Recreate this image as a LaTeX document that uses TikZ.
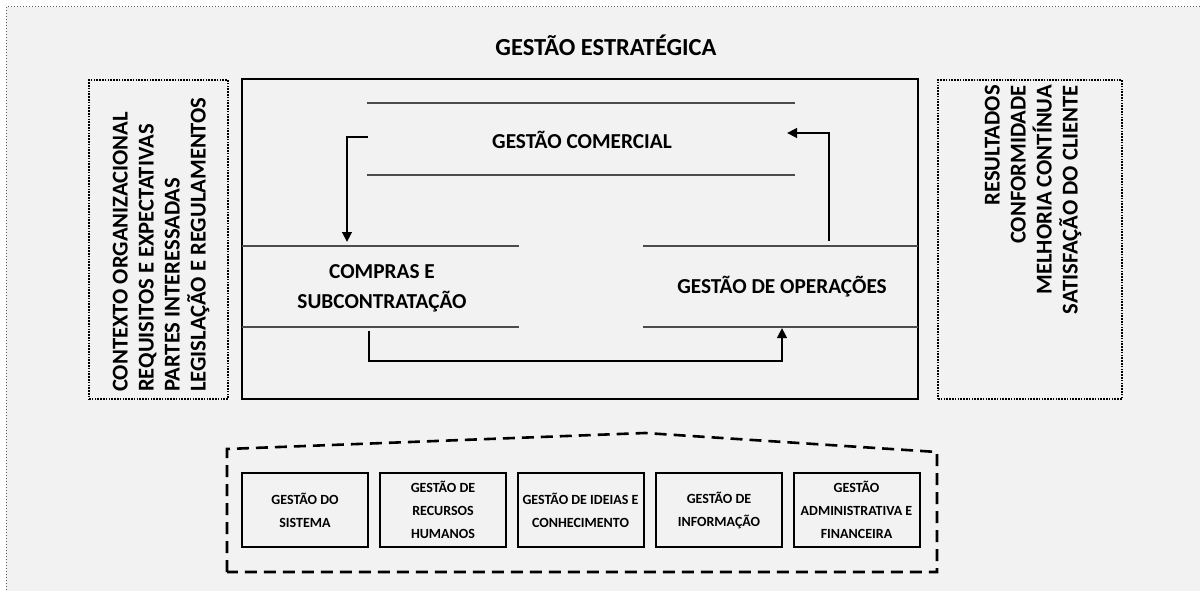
\documentclass[tikz,border=0pt]{standalone}
\usepackage{fontspec}
\setmainfont{Carlito}
\usetikzlibrary{arrows.meta}
\definecolor{bggrey}{HTML}{F2F2F2}
\begin{document}
\begin{tikzpicture}[x=1pt,y=-1pt,
  big/.style={font=\bfseries\fontsize{21.3}{30}\selectfont, align=center, inner sep=0pt},
  side/.style={font=\bfseries\fontsize{22.6}{26}\selectfont, inner sep=0pt, rotate=90},
  small/.style={font=\bfseries\fontsize{14}{23}\selectfont, align=center, inner sep=0pt},
  sidebox/.style={draw=black, dash pattern=on 1.6pt off 1.2pt, line width=1.2pt, inner sep=0pt},
  sep/.style={draw=black!70, line width=1.3pt},
  flow/.style={line width=2.9pt, -{Triangle[length=10pt,width=9.5pt]}},
  subbox/.style={draw, line width=2pt, minimum width=126pt, minimum height=74pt, inner sep=0pt}
]
\useasboundingbox (0,0) rectangle (1200,591);
\fill[bggrey] (6,7) rectangle (1205,596);
\draw[black!65, dotted, line width=1pt] (6,596) -- (6,7) -- (1205,7);

\node[font=\bfseries\fontsize{24.5}{28}\selectfont, inner sep=0pt] (title) at (606,45) {GESTÃO ESTRATÉGICA};

% side boxes
\node[sidebox, minimum width=139pt, minimum height=319pt] (lbox) at (158.5,239.5) {};
\node[sidebox, minimum width=184pt, minimum height=319pt] (rbox) at (1030,239.5) {};
\node[side, align=left, anchor=west] (ctx) at (161,392) {CONTEXTO ORGANIZACIONAL\\REQUISITOS E EXPECTATIVAS\\PARTES INTERESSADAS\\LEGISLAÇÃO E REGULAMENTOS};
\node[side, align=right, anchor=east] (res) at (1033,85) {RESULTADOS\\CONFORMIDADE\\MELHORIA CONTÍNUA\\SATISFAÇÃO DO CLIENTE};

% main frame
\node[draw, line width=2.4pt, minimum width=676pt, minimum height=320pt, inner sep=0pt] (main) at (580,239) {};

% separators
\coordinate (c1a) at (367,103); \coordinate (c1b) at (795,103);
\coordinate (c2a) at (367,175); \coordinate (c2b) at (795,175);
\coordinate (p1a) at (242,246); \coordinate (p1b) at (519,246);
\coordinate (p2a) at (242,327); \coordinate (p2b) at (519,327);
\coordinate (o1a) at (643,246); \coordinate (o1b) at (918,246);
\coordinate (o2a) at (643,327); \coordinate (o2b) at (918,327);
\draw[sep] (c1a) -- (c1b); \draw[sep] (c2a) -- (c2b);
\draw[sep] (p1a) -- (p1b); \draw[sep] (p2a) -- (p2b);
\draw[sep] (o1a) -- (o1b); \draw[sep] (o2a) -- (o2b);

\node[big] (com) at (582,140) {GESTÃO COMERCIAL};
\node[big] (cmp) at (382,288) {COMPRAS E\\SUBCONTRATAÇÃO};
\node[big] (ops) at (782,287) {GESTÃO DE OPERAÇÕES};

% flows
\coordinate (f1s) at (368,137); \coordinate (f1e) at (347,242);
\coordinate (f2s) at (829,241); \coordinate (f2e) at (787,133);
\coordinate (f3s) at (369,331); \coordinate (f3m) at (369,361); \coordinate (f3e) at (782,328);
\draw[flow] (f1s) -| (f1e);
\draw[flow] (f2s) |- (f2e);
\draw[flow] (f3s) -- (f3m) -| (f3e);

% support area
\coordinate (d1) at (227,572); \coordinate (d2) at (227,449); \coordinate (d3) at (645,433);
\coordinate (d4) at (937,452); \coordinate (d5) at (937,572);
\draw[line width=2.6pt, dash pattern=on 12pt off 7pt] (d1) -- (d2) -- (d3) -- (d4) -- (d5) -- cycle;

\node[subbox, small] (s1) at (305,510) {GESTÃO DO\\SISTEMA};
\node[subbox, small] (s2) at (443,510) {GESTÃO DE\\RECURSOS\\HUMANOS};
\node[subbox, small] (s3) at (580.5,510) {GESTÃO DE IDEIAS E\\CONHECIMENTO};
\node[subbox, small] (s4) at (719,510) {GESTÃO DE\\INFORMAÇÃO};
\node[subbox, small] (s5) at (856.5,510) {GESTÃO\\ADMINISTRATIVA E\\FINANCEIRA};
\end{tikzpicture}
\end{document}
